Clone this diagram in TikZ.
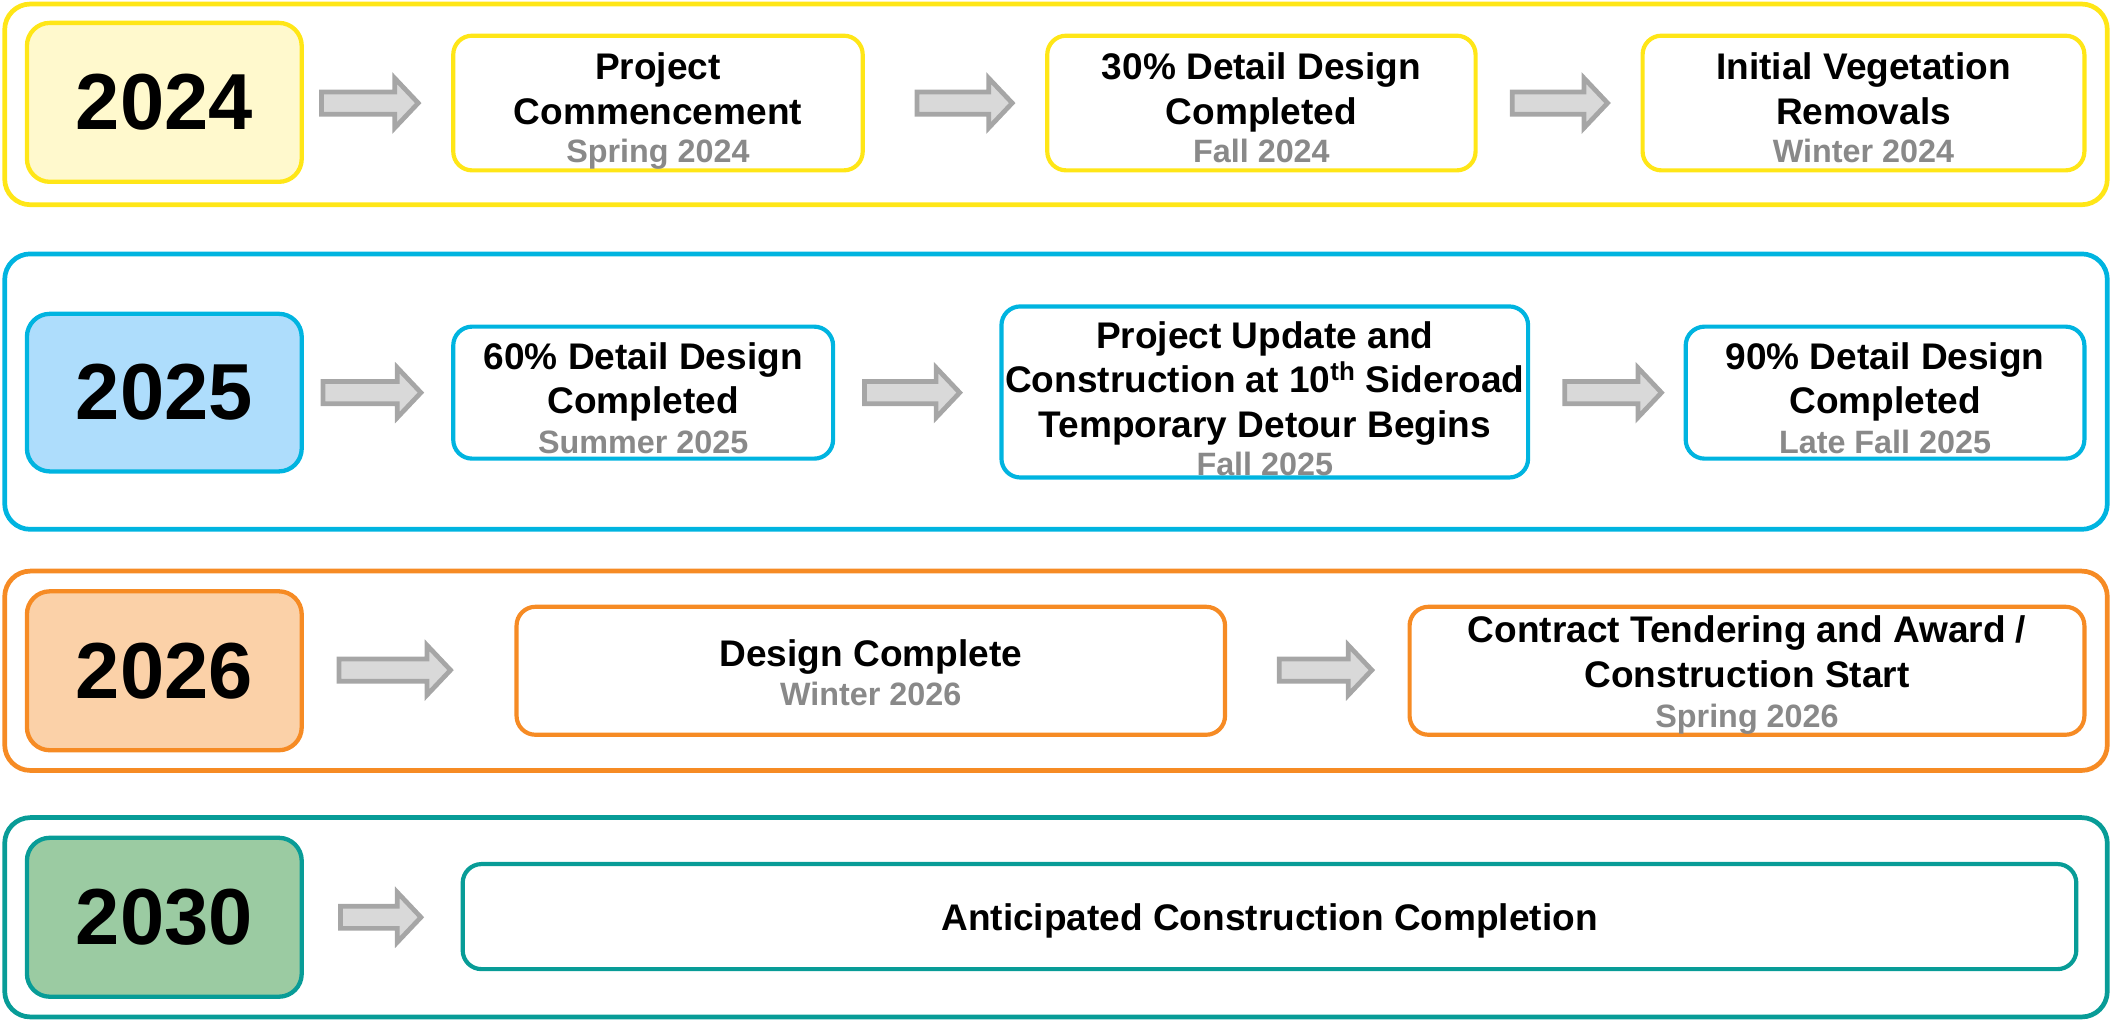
\documentclass[tikz,border=0pt]{standalone}
\usepackage{fontspec}
\setmainfont{Liberation Sans}
\definecolor{ybord}{HTML}{FFE617}
\definecolor{yfill}{HTML}{FFF9CD}
\definecolor{bbord}{HTML}{00B4E0}
\definecolor{bfill}{HTML}{AEDDFC}
\definecolor{obord}{HTML}{F68B24}
\definecolor{ofill}{HTML}{FBD1A8}
\definecolor{tbord}{HTML}{089C97}
\definecolor{tfill}{HTML}{9BCBA2}
\definecolor{arrfill}{HTML}{D9D9D9}
\definecolor{arrline}{HTML}{A6A6A6}
\definecolor{dategray}{HTML}{898989}
\newcommand\lnstrut{\rule[-6pt]{0pt}{31.5pt}}
\newcommand\blkarrow[4]{% name, x start (outer), x tip (outer), y
  \coordinate (#1) at (#2,#4);
  \draw[blockarrow] (#2+1.75,#4-8.25) -- (#3-20,#4-8.25) -- (#3-20,#4-18.5)
    -- (#3-2.5,#4) -- (#3-20,#4+18.5) -- (#3-20,#4+8.25) -- (#2+1.75,#4+8.25) -- cycle;}
\begin{document}
\begin{tikzpicture}[x=1pt,y=-1pt,
  outer/.style={draw=#1, line width=3.5pt, rounded corners=19pt, inner sep=0pt},
  yearbox/.style 2 args={draw=#1, fill=#2, line width=3.2pt, rounded corners=17pt,
     minimum width=204pt, inner sep=0pt, font=\fontsize{59}{59}\selectfont\bfseries},
  evbox/.style={draw=#1, fill=white, line width=3.1pt, rounded corners=14pt, inner sep=0pt},
  title/.style={align=center, font=\fontsize{27.5}{33}\selectfont\bfseries, inner sep=0pt},
  datetext/.style={font=\fontsize{24}{24}\selectfont\bfseries, text=dategray, inner sep=0pt, anchor=base},
  blockarrow/.style={fill=arrfill, draw=arrline, line width=3.5pt, line join=miter}
]
\useasboundingbox (0,0) rectangle (1568,759);

% ---------- Row 2024 ----------
\node[outer=ybord, minimum width=1561pt, minimum height=149pt] (o1) at (784,77.5) {};
\node[yearbox={ybord}{yfill}, minimum height=118pt] (y1) at (122,76) {2024};
\node[evbox=ybord, minimum width=304pt, minimum height=100pt] (b1a) at (488.5,76.5) {};
\node[evbox=ybord, minimum width=318pt, minimum height=100pt] (b1b) at (936.5,76.5) {};
\node[evbox=ybord, minimum width=328pt, minimum height=100pt] (b1c) at (1383.5,76.5) {};
\node[title] (t1a) at (488.5,66) {\lnstrut Project\\\lnstrut Commencement};
\node[datetext] (d1a) at (488.5,121) {Spring 2024};
\node[title] (t1b) at (936.5,66) {\lnstrut 30\% Detail Design\\\lnstrut Completed};
\node[datetext] (d1b) at (936.5,121) {Fall 2024};
\node[title] (t1c) at (1383.5,66) {\lnstrut Initial Vegetation\\\lnstrut Removals};
\node[datetext] (d1c) at (1383.5,121) {Winter 2024};
\blkarrow{a11}{237}{313}{76.5}
\blkarrow{a12}{679}{754}{76.5}
\blkarrow{a13}{1121}{1196}{76.5}

% ---------- Row 2025 ----------
\node[outer=bbord, minimum width=1561pt, minimum height=204.5pt] (o2) at (784,290.75) {};
\node[yearbox={bbord}{bfill}, minimum height=117pt] (y2) at (122,291.5) {2025};
\node[evbox=bbord, minimum width=282pt, minimum height=98pt] (b2a) at (477.5,291.5) {};
\node[evbox=bbord, minimum width=391pt, minimum height=127pt] (b2b) at (939,291) {};
\node[evbox=bbord, minimum width=296pt, minimum height=98pt] (b2c) at (1399.5,291.5) {};
\node[title] (t2a) at (477.5,281) {\lnstrut 60\% Detail Design\\\lnstrut Completed};
\node[datetext] (d2a) at (477.5,336.5) {Summer 2025};
\node[title] (t2b) at (939,282) {\lnstrut Project Update and\\\lnstrut Construction at 10\textsuperscript{th} Sideroad\\\lnstrut Temporary Detour Begins};
\node[datetext] (d2b) at (939,353) {Fall 2025};
\node[title] (t2c) at (1399.5,281) {\lnstrut 90\% Detail Design\\\lnstrut Completed};
\node[datetext] (d2c) at (1399.5,336.5) {Late Fall 2025};
\blkarrow{a21}{238}{315}{291.5}
\blkarrow{a22}{640}{715}{291.5}
\blkarrow{a23}{1160}{1236}{291.5}

% ---------- Row 2026 ----------
\node[outer=obord, minimum width=1561pt, minimum height=148pt] (o3) at (784,498) {};
\node[yearbox={obord}{ofill}, minimum height=118pt] (y3) at (122,498) {2026};
\node[evbox=obord, minimum width=526pt, minimum height=95pt] (b3a) at (646.5,498) {};
\node[evbox=obord, minimum width=501pt, minimum height=95pt] (b3b) at (1297,498) {};
\node[title] (t3a) at (646.5,485) {\lnstrut Design Complete};
\node[datetext] (d3a) at (646.5,523.5) {Winter 2026};
\node[title] (t3b) at (1297,484) {\lnstrut Contract Tendering and Award /\\\lnstrut Construction Start};
\node[datetext] (d3b) at (1297,540) {Spring 2026};
\blkarrow{a31}{250}{337}{497.5}
\blkarrow{a32}{948}{1021}{497.5}

% ---------- Row 2030 ----------
\node[outer=tbord, minimum width=1561pt, minimum height=148pt] (o4) at (784,681) {};
\node[yearbox={tbord}{tfill}, minimum height=118pt] (y4) at (122,681) {2030};
\node[evbox=tbord, minimum width=1198pt, minimum height=78pt] (b4a) at (942.5,680.5) {};
\node[title] (t4a) at (942.5,681) {\lnstrut Anticipated Construction Completion};
\blkarrow{a41}{251}{315}{681}
\end{tikzpicture}
\end{document}
